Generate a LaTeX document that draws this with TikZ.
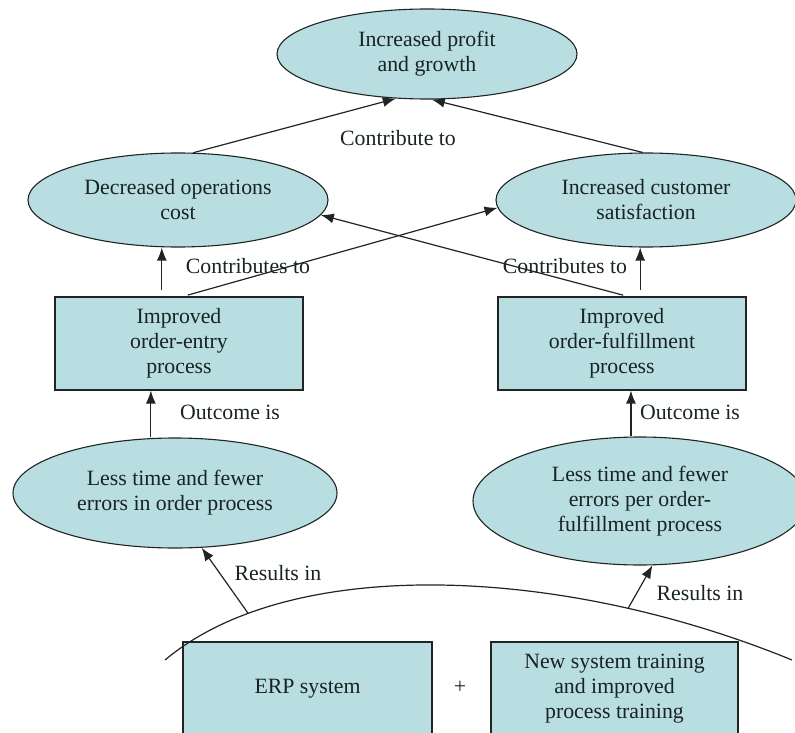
\documentclass[tikz,border=0pt]{standalone}
\usepackage{fontspec}
\setmainfont{Liberation Serif}
\usetikzlibrary{shapes.geometric,arrows.meta,calc}
\definecolor{fillc}{RGB}{184,222,226}
\definecolor{linec}{RGB}{32,36,36}
\definecolor{textc}{RGB}{25,35,35}
\tikzset{
  txt/.style={text=textc, font=\fontsize{21.8}{25}\selectfont},
  oval/.style={ellipse, draw=linec, fill=fillc, line width=1.1pt, inner sep=0pt, align=center, txt},
  rbox/.style={rectangle, draw=linec, fill=fillc, line width=1.1pt, inner sep=0pt, align=center, txt},
  lbl/.style={txt, inner sep=0pt},
  arr/.style={draw=linec, line width=1.2pt, -{Latex[length=13pt,width=10pt]}},
  plainline/.style={draw=linec, line width=1.2pt},
}
\begin{document}
\begin{tikzpicture}[x=1pt,y=-1pt]
\useasboundingbox (0,0) rectangle (795,733);
\clip (0,0) rectangle (795,733);

% nodes
\node[oval, minimum width=300pt, minimum height=90pt] (top) at (427,54) {Increased profit\\and growth};
\node[oval, minimum width=300pt, minimum height=94pt] (ops) at (178,200) {Decreased operations\\cost};
\node[oval, minimum width=300pt, minimum height=94pt] (cust) at (646,200) {Increased customer\\satisfaction};
\node[rbox, minimum width=248pt, minimum height=93pt] (box1) at (179,343.5) {Improved\\order-entry\\process};
\node[rbox, minimum width=248pt, minimum height=93pt] (box2) at (622,343.5) {Improved\\order-fulfillment\\process};
\node[oval, minimum width=324pt, minimum height=110pt] (less1) at (175,493) {Less time and fewer\\errors in order process};
\node[oval, minimum width=334pt, minimum height=128pt] (less2) at (640,501) {Less time and fewer\\errors per order-\\fulfillment process};
\node[rbox, minimum width=249pt, minimum height=94pt] (erp) at (307.5,689) {ERP system};
\node[rbox, minimum width=247pt, minimum height=94pt] (train) at (614.5,689) {New system training\\and improved\\process training};
\node[lbl] (plus) at (460,687) {+};

% labels
\node[lbl] (contr) at (398,138) {Contribute to};
\node[lbl] (cs1) at (248,266) {Contributes to};
\node[lbl] (cs2) at (565,266) {Contributes to};
\node[lbl] (out1) at (230,412) {Outcome is};
\node[lbl] (out2) at (690,412) {Outcome is};
\node[lbl] (res1) at (278,573) {Results in};
\node[lbl] (res2) at (700,593) {Results in};

% curve over the bottom boxes
\draw[plainline] (165,660) .. controls (290,555) and (560,565) .. (792,660)
  coordinate[pos=0.185] (r1) coordinate[pos=0.77] (r2);

% helper coordinates on box edges
\coordinate (b1a) at ($(box1.north west)!0.431!(box1.north east)$);
\coordinate (b1b) at ($(box1.north west)!0.516!(box1.north east)$);
\coordinate (b2a) at ($(box2.north west)!0.573!(box2.north east)$);
\coordinate (b2b) at ($(box2.north west)!0.524!(box2.north east)$);
\coordinate (b1s) at ($(box1.south west)!0.387!(box1.south east)$);
\coordinate (b2s) at ($(box2.south west)!0.536!(box2.south east)$);

% connectors
\draw[arr] (ops.72.6) -- (top.235.7);
\draw[arr] (cust.94.9) -- (top.276.3);
\draw[arr, shorten <=6pt] (b1a) -- (b1a |- ops.south);
\draw[arr, shorten <=6pt] (b2a) -- (b2a |- cust.south);
\draw[arr, shorten <=5pt] (b1b) -- (cust.183.1);
\draw[arr, shorten <=5pt] (b2b) -- (ops.-6.8);
\draw[arr] (b1s |- less1.north) -- (b1s);
\draw[arr] (b2s |- less2.north) -- (b2s);
\draw[arr] (r1) -- (less1.-64.7);
\draw[arr] (r2) -- (less2.-79.8);
\end{tikzpicture}
\end{document}
